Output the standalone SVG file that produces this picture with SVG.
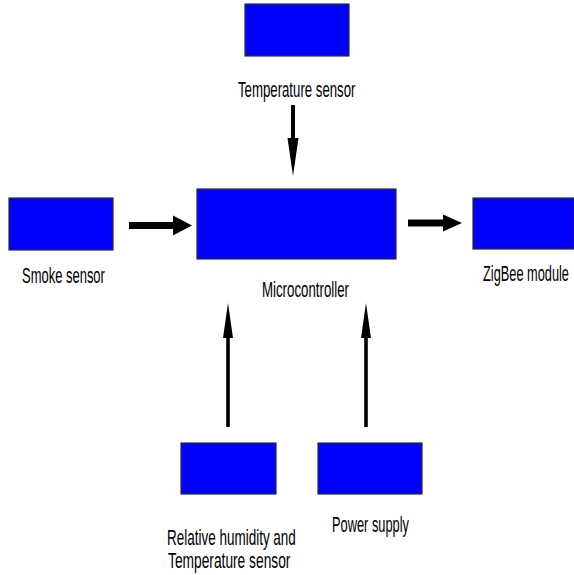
<svg xmlns="http://www.w3.org/2000/svg" width="574" height="575" viewBox="0 0 574 575">
  <style>
    .box { fill: #0000ff; stroke: #2a2a3a; stroke-width: 1.2; }
    .lbl { font-family: "Liberation Sans", Arial, sans-serif; font-size: 22px; fill: #000; }
    .arrow { fill: #000; stroke: none; }
  </style>
  <rect x="0" y="0" width="574" height="575" fill="#ffffff"/>

  <g id="connectors">
    <!-- Temperature sensor -> Microcontroller -->
    <path class="arrow" d="M291 105 H295 V138 H298.5 L293 176 L287.5 138 H291 Z"/>
    <!-- Smoke sensor -> Microcontroller -->
    <path class="arrow" d="M129 222 H173 V215.5 L192 225.5 L173 235.5 V229 H129 Z"/>
    <!-- Microcontroller -> ZigBee module -->
    <path class="arrow" d="M408 219.5 H443 V214.5 L462 223 L443 231.5 V226.5 H408 Z"/>
    <!-- Relative humidity sensor -> Microcontroller -->
    <path class="arrow" d="M226.2 427 V338 H223 L228 303 L233 338 H229.8 V427 Z"/>
    <!-- Power supply -> Microcontroller -->
    <path class="arrow" d="M364.2 427 V338 H361 L366 303 L371 338 H367.8 V427 Z"/>
  </g>

  <!-- labels use a narrow face: regular glyphs squeezed horizontally -->
  <g id="temperature-sensor">
    <rect class="box" x="245" y="4" width="104" height="52"/>
    <text class="lbl" transform="translate(238 97) scale(0.601 1)">Temperature sensor</text>
  </g>

  <g id="smoke-sensor">
    <rect class="box" x="9" y="198" width="104" height="52"/>
    <text class="lbl" transform="translate(22 283) scale(0.59 1)">Smoke sensor</text>
  </g>

  <g id="microcontroller">
    <rect class="box" x="197" y="189" width="199" height="70"/>
    <text class="lbl" transform="translate(262 296.5) scale(0.603 1)">Microcontroller</text>
  </g>

  <g id="zigbee-module">
    <rect class="box" x="473" y="198" width="101" height="51"/>
    <text class="lbl" transform="translate(483 281) scale(0.581 1)">ZigBee module</text>
  </g>

  <g id="humidity-sensor">
    <rect class="box" x="181" y="443" width="95" height="51"/>
    <text class="lbl" transform="translate(167 545) scale(0.613 1)">Relative humidity and</text>
    <text class="lbl" transform="translate(168 568) scale(0.626 1)">Temperature sensor</text>
  </g>

  <g id="power-supply">
    <rect class="box" x="318" y="443" width="104" height="51"/>
    <text class="lbl" transform="translate(332 532) scale(0.583 1)">Power supply</text>
  </g>
</svg>
